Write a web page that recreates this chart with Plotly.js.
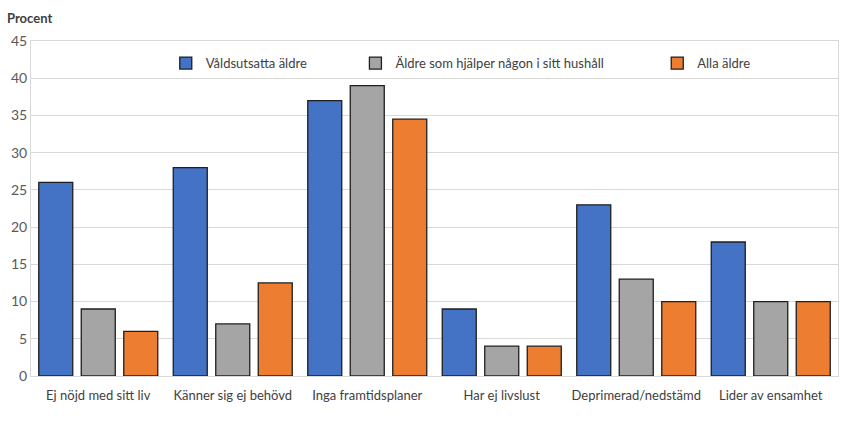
<!DOCTYPE html>
<html>
<head>
<meta charset="utf-8">
<script src="https://cdn.plot.ly/plotly-3.0.1.min.js"></script>
<style>
  body { margin: 0; background: #fff; }
  #chart { width: 843px; height: 427px; }
</style>
</head>
<body>
<div id="chart"></div>
<script>
let categories = ["Ej nöjd med sitt liv", "Känner sig ej behövd", "Inga framtidsplaner", "Har ej livslust", "Deprimerad/nedstämd", "Lider av ensamhet"];
let seriesNames = ["Våldsutsatta äldre", "Äldre som hjälper någon i sitt hushåll", "Alla äldre"];
let valdsutsatta = [26, 28, 37, 9, 23, 18];
let hjalper = [9, 7, 39, 4, 13, 10];
let allaAldre = [6, 12.5, 34.5, 4, 10, 10];

let colors = ['#4472C4', '#A5A5A5', '#ED7D31'];
let legends = ['legend', 'legend2', 'legend3'];
let allValues = [valdsutsatta, hjalper, allaAldre];

let traces = allValues.map((vals, i) => ({
    x: categories,
    y: vals,
    name: seriesNames[i],
    type: 'bar',
    legend: legends[i],
    marker: {
        color: colors[i],
        line: { color: '#1f1f1f', width: 1.3 }
    },
    hoverinfo: 'skip'
}));

let legendBase = {
    orientation: 'h',
    yanchor: 'middle',
    y: 0.934,
    xanchor: 'left',
    bgcolor: 'rgba(0,0,0,0)',
    font: { family: 'Lato', size: 13, color: '#404040' },
    itemwidth: 30
};

let layout = {
    width: 843,
    height: 427,
    margin: { l: 31, r: 5, t: 41, b: 51 },
    paper_bgcolor: '#ffffff',
    plot_bgcolor: '#ffffff',
    font: { family: 'Lato', size: 13, color: '#595959' },
    barmode: 'group',
    bargap: 0.052,
    bargroupgap: 0.2,
    showlegend: true,
    legend: Object.assign({}, legendBase, { x: 0.167 }),
    legend2: Object.assign({}, legendBase, { x: 0.402 }),
    legend3: Object.assign({}, legendBase, { x: 0.776 }),
    xaxis: {
        showline: true,
        mirror: true,
        linecolor: '#d9d9d9',
        linewidth: 1,
        ticks: '',
        ticklabelstandoff: 7,
        tickfont: { family: 'Lato', size: 13, color: '#404040' },
        fixedrange: true
    },
    yaxis: {
        range: [0, 45],
        dtick: 5,
        showline: true,
        mirror: true,
        linecolor: '#d9d9d9',
        gridcolor: '#d9d9d9',
        zeroline: false,
        ticks: '',
        tickfont: { family: 'Lato', size: 14, color: '#595959' },
        fixedrange: true
    },
    annotations: [{
        text: '<b>Procent</b>',
        xref: 'paper', yref: 'paper',
        x: -0.032, y: 1.07,
        xanchor: 'left', yanchor: 'middle',
        showarrow: false,
        font: { family: 'Lato', size: 13, color: '#404040' }
    }]
};

const config = {
    displayModeBar: false,
    staticPlot: true
};

Plotly.newPlot('chart', traces, layout, config);
</script>
</body>
</html>
